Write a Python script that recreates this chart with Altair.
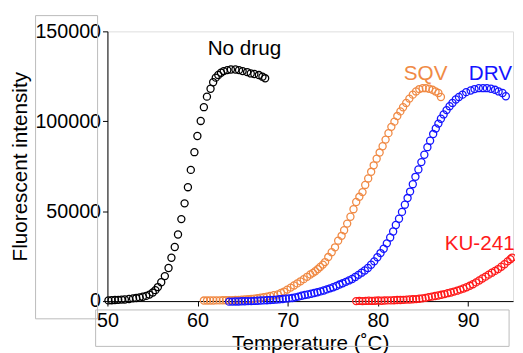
import altair as alt
import pandas as pd

# ---- data ----
nodrug_t = [50.11, 50.47, 50.84, 51.2, 51.57, 51.93, 52.4, 52.84, 53.2, 53.57, 53.93, 54.3, 54.66,
            55.03, 55.32, 55.6, 55.97, 56.37, 56.78, 57.1, 57.47, 57.83, 58.2, 58.56, 58.93, 59.25,
            59.65, 59.98, 60.35, 60.7, 61.04, 61.44, 61.73, 62.02, 62.3, 62.6, 62.9, 63.3, 63.7,
            64.2, 64.6, 65.0, 65.5, 65.9, 66.3, 66.8, 67.2, 67.5]
nodrug_v = [400, 500, 600, 700, 800, 900, 1200, 1500, 1700, 2000, 2400, 2900, 3600,
            4750, 6100, 7800, 10500, 13900, 18400, 24100, 30100, 37050, 45600, 54360, 63330, 72970,
            82820, 91800, 100170, 107840, 113690, 118070, 121680, 124260, 125740, 127000, 127900, 128450, 128800,
            128800, 128450, 127900, 127350, 126600, 126270, 125700, 124800, 123900]

sqv_t = [60.7, 61.05, 61.4, 61.75, 62.1, 62.45, 62.8, 63.15, 63.5, 63.85, 64.2, 64.55, 64.9, 65.25,
         65.6, 65.95, 66.3, 66.65, 67.0, 67.35, 67.7, 68.05, 68.45, 68.9, 69.25, 69.6, 69.95, 70.33,
         70.7, 71.06, 71.42, 71.78, 72.15, 72.51, 72.8, 73.06, 73.35, 73.6, 73.9, 74.15, 74.5, 74.88,
         75.25, 75.6, 75.98, 76.26, 76.6, 76.96, 77.3, 77.6, 77.95, 78.3, 78.6, 78.93, 79.26, 79.54,
         79.87, 80.2, 80.53, 80.86, 81.18, 81.5, 81.84, 82.16, 82.5, 82.8, 83.15, 83.5, 83.88, 84.24,
         84.6, 84.97, 85.33, 85.7, 86.07, 86.4, 86.72, 87.0]
sqv_v = [300, 300, 350, 350, 400, 400, 450, 500, 500, 550, 600, 700, 800, 900,
         1000, 1200, 1400, 1600, 1900, 2200, 2500, 2900, 3300, 3700, 4500, 5300, 6400, 7500,
         8700, 9850, 11000, 12200, 13500, 14800, 15700, 16600, 17800, 19000, 20300, 21700, 24500, 27200,
         29900, 33600, 36300, 39400, 43100, 46900, 51100, 55100, 58000, 60600, 64600, 68200, 71900, 75500,
         79200, 82600, 86100, 89800, 93400, 96900, 99800, 102900, 105500, 107800, 110200, 112600, 114800, 116600,
         117900, 118400, 118400, 118100, 117500, 116600, 115700, 113500]

drv_t = [63.5, 63.85, 64.2, 64.55, 64.9, 65.25, 65.6, 65.95, 66.3, 66.65, 67.0, 67.35, 67.7, 68.05,
         68.4, 68.75, 69.1, 69.45, 69.8, 70.15, 70.5, 70.85, 71.2, 71.55, 71.9, 72.25, 72.6, 72.95,
         73.3, 73.65, 74.0, 74.35, 74.7, 75.05, 75.4, 75.75, 76.1, 76.45, 76.8, 77.15, 77.5, 77.85,
         78.2, 78.55, 78.9, 79.25, 79.6, 79.95, 80.3, 80.65, 81.0, 81.37, 81.7, 82.0, 82.35, 82.68,
         83.0, 83.3, 83.58, 83.88, 84.17, 84.5, 84.83, 85.16, 85.5, 85.8, 86.14, 86.43, 86.72, 87.0,
         87.3, 87.63, 87.96, 88.28, 88.65, 89.0, 89.4, 89.8, 90.3, 90.73, 91.2, 91.67, 92.1, 92.55,
         93.0, 93.4, 93.83, 94.2]
drv_v = [-300, -300, -200, -200, -100, -100, 0, 0, 100, 200, 300, 400, 500, 600,
         700, 800, 1000, 1200, 1400, 1500, 1700, 2100, 2500, 3000, 3400, 3700, 4100, 4500,
         4900, 5400, 5900, 6500, 7100, 7700, 8400, 9200, 9900, 10700, 11500, 12300, 13400, 14600,
         15800, 17000, 18400, 20200, 22100, 24400, 26700, 29100, 32100, 35400, 38700, 42300, 45800, 49600,
         53600, 57300, 60900, 65000, 69100, 73200, 77300, 81400, 85600, 89200, 92900, 96000, 98700, 101400,
         103800, 106200, 108400, 110200, 112100, 113500, 114800, 116200, 117100, 117900, 118400, 118400, 118400, 118100,
         117500, 116600, 115700, 113900]

ku_t = [77.6, 77.95, 78.3, 78.65, 79.0, 79.35, 79.7, 80.05, 80.4, 80.75, 81.1, 81.45, 81.8, 82.15,
        82.5, 82.85, 83.2, 83.55, 83.9, 84.25, 84.6, 84.95, 85.3, 85.65, 86.0, 86.35, 86.7, 87.05,
        87.4, 87.75, 88.1, 88.45, 88.8, 89.15, 89.5, 89.85, 90.2, 90.55, 90.9, 91.25, 91.6, 91.95,
        92.3, 92.65, 93.0, 93.35, 93.7, 94.05, 94.4, 94.7, 94.9]
ku_v = [0, 100, 0, 100, 200, 100, 200, 300, 200, 300, 400, 400, 500, 600,
        600, 700, 800, 900, 1000, 1100, 1300, 1500, 1800, 2200, 2500, 2800, 3100, 3500,
        3900, 4400, 4800, 5300, 5800, 6400, 7000, 7700, 8500, 9400, 10400, 11500, 12600, 13600,
        14700, 15800, 16800, 17800, 19100, 20500, 22100, 23300, 24200]

series_names = ["No drug", "SQV", "DRV", "KU-241"]
series_colors = ["#000000", "#F08A45", "#1414FF", "#FF1A1A"]

label_text = ["No drug", "SQV", "DRV", "KU-241"]
label_t = [65.2, 85.3, 92.5, 91.3]
label_v = [140100, 126400, 126400, 31750]

x_ticks = [50, 60, 70, 80, 90]
y_ticks = [0, 50000, 100000, 150000]

rows = []
for name, ts, vs in zip(series_names, [nodrug_t, sqv_t, drv_t, ku_t], [nodrug_v, sqv_v, drv_v, ku_v]):
    for t, v in zip(ts, vs):
        rows.append({"series": name, "t": t, "v": v})
df = pd.DataFrame(rows)
labels = pd.DataFrame({"series": label_text, "t": label_t, "v": label_v})

FONT = "Liberation Sans"
color = alt.Color("series:N", scale=alt.Scale(domain=series_names, range=series_colors), legend=None)

xenc = alt.X("t:Q", scale=alt.Scale(domain=[50, 95], nice=False, zero=False),
             axis=alt.Axis(values=x_ticks, title="Temperature (˚C)", grid=False,
                           labelFontSize=20, titleFontSize=21, labelFont=FONT, titleFont=FONT,
                           titleFontWeight="normal", domainColor="black", tickColor="black",
                           labelColor="black", titleColor="black", tickSize=5, labelPadding=5,
                           titlePadding=2, labelFlush=False))
yenc = alt.Y("v:Q", scale=alt.Scale(domain=[0, 150000], nice=False),
             axis=alt.Axis(values=y_ticks, format="d", title="Fluorescent intensity", grid=False,
                           labelFontSize=20, titleFontSize=21, labelFont=FONT, titleFont=FONT,
                           titleFontWeight="normal", domainColor="black", tickColor="black",
                           labelColor="black", titleColor="black", tickSize=5, labelPadding=2,
                           titlePadding=4, labelFlush=False))

points = alt.Chart(df).mark_point(shape="circle", filled=False, size=52, strokeWidth=1.3, opacity=1).encode(
    x=xenc, y=yenc, color=color)

text = alt.Chart(labels).mark_text(fontSize=21, font=FONT, baseline="middle", align="center").encode(
    x="t:Q", y="v:Q", text="series:N", color=color)

one = pd.DataFrame({"k": [0]})
boxA = alt.Chart(one).mark_rect(fill=None, stroke="#BBBBBB", strokeWidth=1).encode(
    x=alt.value(-73), x2=alt.value(-10), y=alt.value(-16), y2=alt.value(292))
boxB = alt.Chart(one).mark_rect(fill=None, stroke="#BBBBBB", strokeWidth=1).encode(
    x=alt.value(-12), x2=alt.value(408), y=alt.value(283), y2=alt.value(320))

chart = alt.layer(boxA, boxB, points, text).properties(
    width=412, height=274,
    autosize=alt.AutoSizeParams(type="none"),
    padding={"left": 101, "top": 21, "right": 2, "bottom": 50},
).configure_view(stroke=None).configure(background="white")

chart.save("out.html", embed_options={"renderer": "svg", "actions": False})
